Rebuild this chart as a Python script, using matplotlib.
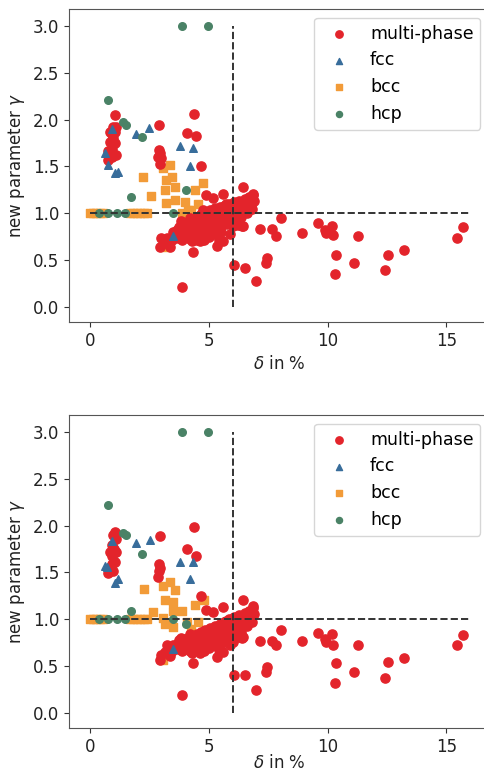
import matplotlib
matplotlib.use("Agg")
import matplotlib.pyplot as plt

# colours / legend names
labels = ["multi-phase", "fcc", "bcc", "hcp"]
c_mp = "#e3242b"
c_fcc = "#386d9b"
c_bcc = "#f29b38"
c_hcp = "#4a8266"

# ---------------- upper panel ----------------
mp1_x = [1.03, 0.96, 1.07, 0.89, 1.03, 0.82, 0.96, 0.82, 1.03, 0.93, 0.75, 1.10, 0.93, 0.75,
         2.90, 2.90, 2.95, 2.86, 2.99, 2.93,
         4.09, 4.47, 4.37, 4.66,
         4.87, 5.18, 5.57, 6.45, 6.86,
         6.03, 6.53, 6.96, 7.14, 7.65, 7.82, 7.43, 7.38, 8.02, 8.92, 9.61, 9.89, 9.93,
         10.18, 10.24, 10.34, 10.31, 11.11, 11.27, 12.42, 12.53, 13.23, 15.44, 15.72,
         3.84, 4.33, 5.32,
         2.93, 2.99, 3.21, 3.35, 3.14,
         6.02, 6.45,
         3.60, 3.70, 3.75, 3.80, 3.85, 3.90, 3.95, 4.00, 4.05, 4.10, 4.15, 4.20, 4.25,
         4.30, 4.35, 4.40, 4.45, 4.50, 4.55, 4.60, 4.65, 4.70, 4.75, 4.80, 4.85, 4.90,
         4.95, 5.00, 5.05, 5.10, 5.15, 5.20, 5.25, 5.30, 5.35, 5.40, 5.45, 5.50, 5.55,
         5.60, 5.65, 5.70, 5.75, 5.80, 5.85, 5.90, 5.95, 6.00, 6.05, 6.10, 6.15, 6.20,
         6.25, 6.30, 6.35, 6.40, 6.50, 6.55, 6.60, 6.70, 6.75, 6.85, 6.90,
         4.30, 4.80, 5.40, 5.60, 5.90, 6.40, 5.00, 4.60, 3.50, 3.45,
         3.80, 4.20, 4.70, 4.75, 5.20, 5.70, 6.20, 6.60, 6.80, 4.50, 5.00, 5.50,
         3.65, 3.90, 4.10, 4.40, 4.60, 4.90, 5.10, 5.30, 5.50, 5.75, 5.95, 6.10, 6.30,
         6.50, 6.65, 6.80, 4.00, 4.45, 5.05, 5.65, 6.35]
mp1_y = [2.05, 1.92, 1.92, 1.85, 1.87, 1.87, 1.80, 1.76, 1.75, 1.69, 1.66, 1.62, 1.60, 1.57,
         1.94, 1.67, 1.64, 1.60, 1.59, 1.53,
         1.86, 1.82, 2.06, 1.50,
         1.19, 1.16, 1.21, 1.28, 1.21,
         0.45, 0.42, 0.28, 0.83, 0.83, 0.76, 0.52, 0.47, 0.95, 0.79, 0.90, 0.82, 0.79,
         0.86, 0.77, 0.55, 0.35, 0.47, 0.76, 0.40, 0.55, 0.61, 0.74, 0.85,
         0.21, 0.59, 0.65,
         0.64, 0.74, 0.74, 0.64, 0.68,
         0.86, 0.86,
         0.78, 0.74, 0.85, 0.77, 0.72, 0.90, 0.79, 0.75, 0.86, 0.91, 0.78, 0.73, 0.88,
         0.81, 0.93, 0.76, 0.86, 0.96, 0.80, 0.89, 0.99, 0.83, 0.74, 0.92, 1.01, 0.85,
         0.79, 0.95, 1.04, 0.88, 0.80, 0.98, 1.06, 0.90, 0.84, 1.00, 1.07, 0.93, 0.87,
         1.02, 1.08, 0.95, 0.89, 1.05, 1.10, 0.97, 0.91, 1.07, 1.12, 0.99, 0.93, 1.09,
         1.13, 1.01, 0.96, 1.11, 1.15, 1.04, 1.12, 1.17, 1.08, 1.19, 1.13,
         0.70, 0.72, 0.72, 0.70, 0.78, 0.86, 0.75, 0.70, 0.80, 0.72,
         0.92, 0.95, 0.71, 1.03, 0.78, 1.10, 0.88, 1.00, 1.05, 0.72, 0.85, 0.80,
         0.82, 0.83, 0.82, 0.90, 0.94, 0.97, 0.95, 0.97, 1.00, 1.02, 1.02, 1.06, 1.07,
         1.09, 1.13, 1.14, 0.80, 0.82, 0.86, 0.92, 1.05]

fcc1_x = [0.60, 0.74, 1.03, 1.15, 0.92, 1.93, 2.49, 3.77, 4.33, 4.21, 3.49]
fcc1_y = [1.64, 1.51, 1.43, 1.44, 1.90, 1.85, 1.91, 1.72, 1.70, 1.50, 0.76]

bcc1_x = [0.00, 0.12, 0.25, 0.40, 0.55, 1.65, 1.80, 1.95, 2.10, 2.25, 2.40,
          2.22, 2.57, 3.06, 3.35, 3.42, 3.20, 3.13, 3.56, 3.20, 3.56, 3.98, 4.12,
          4.40, 4.75, 4.54, 3.84, 4.26, 3.16, 4.47, 4.96, 5.18]
bcc1_y = [1.00, 1.00, 1.00, 1.00, 1.00, 1.00, 1.00, 1.00, 1.00, 1.00, 1.00,
          1.39, 1.18, 1.48, 1.51, 1.39, 1.35, 1.25, 1.28, 1.11, 1.14, 1.12, 1.03,
          1.25, 1.32, 1.10, 1.00, 1.03, 0.64, 0.79, 0.82, 0.79]

hcp1_x = [3.85, 4.95, 0.76, 1.38, 1.48, 2.17, 1.70, 4.01, 0.37, 0.76, 1.13, 1.45, 3.49]
hcp1_y = [3.00, 3.00, 2.21, 1.97, 1.94, 1.81, 1.17, 1.25, 1.00, 1.00, 1.00, 1.00, 1.00]

# ---------------- lower panel ----------------
mp2_x = [1.03, 0.96, 1.07, 0.89, 1.00, 0.82, 1.07, 0.93, 1.05, 0.89, 0.75, 0.96,
         2.93, 2.90, 2.95, 2.90, 2.86,
         4.09, 4.47, 4.37, 4.66,
         4.87, 5.18, 5.57, 6.45, 6.86,
         6.03, 6.53, 6.96, 7.14, 7.65, 7.82, 7.43, 7.38, 8.02, 8.92, 9.61, 9.89, 9.93,
         10.18, 10.24, 10.34, 10.31, 11.11, 11.27, 12.42, 12.53, 13.23, 15.44, 15.72,
         3.84, 4.33, 5.32,
         2.93, 2.99, 3.21, 3.35, 3.14,
         6.02, 6.45,
         3.60, 3.70, 3.75, 3.80, 3.85, 3.90, 3.95, 4.00, 4.05, 4.10, 4.15, 4.20, 4.25,
         4.30, 4.35, 4.40, 4.45, 4.50, 4.55, 4.60, 4.65, 4.70, 4.75, 4.80, 4.85, 4.90,
         4.95, 5.00, 5.05, 5.10, 5.15, 5.20, 5.25, 5.30, 5.35, 5.40, 5.45, 5.50, 5.55,
         5.60, 5.65, 5.70, 5.75, 5.80, 5.85, 5.90, 5.95, 6.00, 6.05, 6.10, 6.15, 6.20,
         6.25, 6.30, 6.35, 6.40, 6.50, 6.55, 6.60, 6.70, 6.75, 6.85, 6.90,
         4.30, 4.80, 5.40, 5.60, 5.90, 6.40, 5.00, 4.60, 3.50, 3.45,
         3.80, 4.20, 4.70, 4.75, 5.20, 5.70, 6.20, 6.60, 6.80, 4.50, 5.00, 5.50,
         3.65, 3.90, 4.10, 4.40, 4.60, 4.90, 5.10, 5.30, 5.50, 5.75, 5.95, 6.10, 6.30,
         6.50, 6.65, 6.80, 4.00, 4.45, 5.05, 5.65, 6.35]
mp2_y = [1.93, 1.90, 1.86, 1.79, 1.75, 1.72, 1.72, 1.67, 1.61, 1.59, 1.49, 1.52,
         1.89, 1.59, 1.55, 1.51, 1.45,
         1.75, 1.68, 1.98, 1.25,
         1.10, 1.08, 1.13, 1.20, 1.14,
         0.41, 0.40, 0.25, 0.77, 0.77, 0.72, 0.49, 0.44, 0.88, 0.77, 0.85, 0.79, 0.76,
         0.84, 0.73, 0.53, 0.32, 0.44, 0.72, 0.37, 0.54, 0.59, 0.72, 0.83,
         0.19, 0.53, 0.60,
         0.57, 0.62, 0.72, 0.61, 0.65,
         0.76, 0.81,
         0.72, 0.68, 0.78, 0.70, 0.66, 0.79, 0.72, 0.68, 0.77, 0.80, 0.70, 0.66, 0.79,
         0.73, 0.82, 0.68, 0.77, 0.84, 0.71, 0.79, 0.86, 0.74, 0.67, 0.82, 0.88, 0.75,
         0.70, 0.84, 0.91, 0.78, 0.72, 0.87, 0.93, 0.80, 0.75, 0.89, 0.95, 0.83, 0.77,
         0.92, 0.97, 0.85, 0.79, 0.94, 1.00, 0.87, 0.81, 0.97, 1.02, 0.89, 0.84, 0.99,
         1.04, 0.91, 0.86, 1.02, 1.07, 0.95, 1.03, 1.09, 0.99, 1.12, 1.06,
         0.64, 0.66, 0.67, 0.65, 0.73, 0.80, 0.69, 0.64, 0.73, 0.66,
         0.80, 0.84, 0.66, 0.86, 0.72, 0.98, 0.81, 0.93, 0.97, 0.67, 0.78, 0.74,
         0.74, 0.75, 0.74, 0.80, 0.83, 0.86, 0.85, 0.87, 0.90, 0.92, 0.93, 0.96, 0.97,
         1.00, 1.04, 1.06, 0.72, 0.74, 0.77, 0.83, 0.95]

fcc2_x = [0.60, 0.68, 0.91, 1.03, 1.15, 1.94, 2.50, 3.77, 4.33, 4.21, 3.49]
fcc2_y = [1.57, 1.56, 1.83, 1.39, 1.43, 1.81, 1.85, 1.61, 1.61, 1.43, 0.68]

bcc2_x = [0.00, 0.12, 0.25, 0.40, 0.55, 1.65, 1.80, 1.95, 2.10, 2.25, 2.40,
          2.26, 2.62, 3.07, 3.35, 3.56, 3.14, 3.49, 3.14, 3.49, 3.07, 3.49,
          3.88, 4.40, 4.78, 4.26, 4.05, 4.54, 3.07, 4.47, 4.96, 6.02]
bcc2_y = [1.00, 1.00, 1.00, 1.00, 1.00, 1.00, 1.00, 1.00, 1.00, 1.00, 1.00,
          1.32, 1.08, 1.36, 1.40, 1.31, 1.20, 1.18, 0.95, 0.92, 1.01, 1.09,
          1.09, 1.15, 1.20, 0.90, 0.97, 0.97, 0.56, 0.70, 0.76, 0.79]

hcp2_x = [3.85, 4.95, 0.76, 1.38, 1.48, 2.17, 1.70, 4.01, 0.37, 0.76, 1.13, 1.45, 3.49]
hcp2_y = [3.00, 3.00, 2.22, 1.92, 1.90, 1.70, 1.09, 0.95, 1.00, 1.00, 1.00, 1.00, 1.00]

# reference lines
delta_cut = 6
gamma_cut = 1.0


def draw_panel(ax, mpx, mpy, fx, fy, bx, by, hx, hy, xpad=4):
    ax.scatter(mpx, mpy, s=44, color=c_mp, marker="o", label=labels[0], zorder=3)
    ax.scatter(fx, fy, s=30, color=c_fcc, marker="^", label=labels[1], zorder=4)
    ax.scatter(bx, by, s=30, color=c_bcc, marker="s", label=labels[2], zorder=2)
    ax.scatter(hx, hy, s=30, color=c_hcp, marker="o", label=labels[3], zorder=5)
    ax.plot([delta_cut, delta_cut], [0, 3], "--", color="#333333", lw=1.4, zorder=6)
    ax.plot([0, 16], [gamma_cut, gamma_cut], "--", color="#333333", lw=1.4, zorder=6)
    ax.set_xlim(-0.9, 16.8)
    ax.set_ylim(-0.16, 3.18)
    ax.set_xticks([0, 5, 10, 15])
    ax.set_yticks([0.0, 0.5, 1.0, 1.5, 2.0, 2.5, 3.0])
    ax.tick_params(labelsize=12, colors="#333333", labelcolor="#222222")
    ax.set_xlabel(r"$\delta$ in %", fontsize=12, color="#222222", labelpad=xpad)
    ax.set_ylabel(r"new parameter $\gamma$", fontsize=12, color="#222222")
    for sp in ax.spines.values():
        sp.set_color("#555555")
    ax.legend(loc="upper right", fontsize=12.5, markerscale=0.8)


fig = plt.figure(figsize=(4.84, 7.74), dpi=100)
ax1 = fig.add_axes([0.1426, 0.584, 0.868, 0.4044])
ax2 = fig.add_axes([0.1426, 0.0595, 0.868, 0.4044])
draw_panel(ax1, mp1_x, mp1_y, fcc1_x, fcc1_y, bcc1_x, bcc1_y, hcp1_x, hcp1_y)
draw_panel(ax2, mp2_x, mp2_y, fcc2_x, fcc2_y, bcc2_x, bcc2_y, hcp2_x, hcp2_y, xpad=-1)

fig.savefig("out.png", dpi=100)
